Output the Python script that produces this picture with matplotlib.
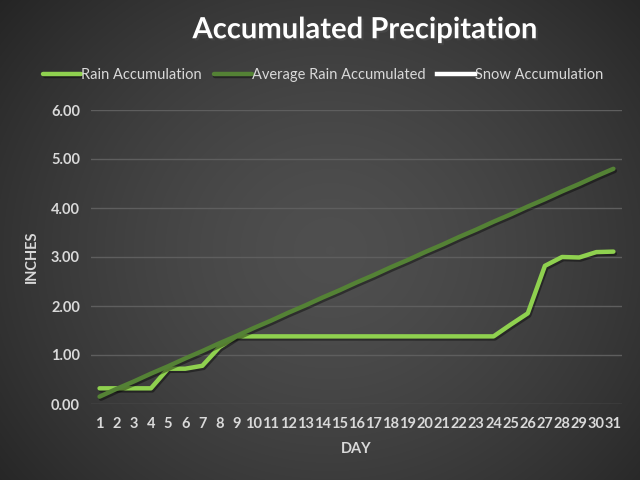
import matplotlib
matplotlib.use("Agg")
import matplotlib.pyplot as plt
import matplotlib.patheffects as pe
from matplotlib import font_manager
import numpy as np

days = [str(d) for d in range(1, 32)]
rain = [0.32, 0.32, 0.32, 0.32, 0.72, 0.72, 0.78, 1.16, 1.38, 1.38,
        1.38, 1.38, 1.38, 1.38, 1.38, 1.38, 1.38, 1.38, 1.38, 1.38,
        1.38, 1.38, 1.38, 1.38, 1.62, 1.85, 2.82, 3.00, 2.99, 3.10, 3.11]
avg_rain = [0.15, 0.31, 0.46, 0.62, 0.77, 0.93, 1.08, 1.24, 1.39, 1.55,
            1.70, 1.86, 2.01, 2.17, 2.32, 2.48, 2.63, 2.79, 2.94, 3.10,
            3.25, 3.41, 3.56, 3.72, 3.87, 4.03, 4.18, 4.34, 4.49, 4.65, 4.80]
snow = [np.nan] * 31
yticks = [0, 1, 2, 3, 4, 5, 6]

# pick a family that really has a bold face
fam = "DejaVu Sans"
for f in ["Lato", "Open Sans", "Roboto", "Noto Sans"]:
    path = font_manager.findfont(font_manager.FontProperties(family=f, weight="bold"),
                                 fallback_to_default=False)
    name = path.lower()
    if f.split()[0].lower() in name and ("bold" in name or "black" in name or "heavy" in name):
        fam = f
        break
plt.rcParams["font.family"] = [fam, "DejaVu Sans"]
plt.rcParams["font.weight"] = "bold"

fig = plt.figure(figsize=(6.4, 4.8), dpi=100)

# radial dark background
bg = fig.add_axes([0, 0, 1, 1], zorder=0)
yy, xx = np.mgrid[0:480, 0:640]
r = np.sqrt(((xx - 330) / 420.0) ** 2 + ((yy - 250) / 380.0) ** 2)
shade = np.clip(0.31 - 0.16 * r ** 1.5, 0.12, 0.31)
bg.imshow(np.dstack([shade] * 3), extent=[0, 1, 0, 1], aspect="auto")
bg.axis("off")

ax = fig.add_axes([91 / 640, 1 - 404 / 480, 531 / 640, 294 / 480], zorder=1)
ax.patch.set_alpha(0)

x = np.arange(len(days))
shadow = [pe.SimpleLineShadow(offset=(1, -1.5), alpha=0.4), pe.Normal()]
ax.plot(x, rain, color="#8fd14f", lw=3.2, solid_capstyle="round",
        label="Rain Accumulation", path_effects=shadow, zorder=3)
ax.plot(x, avg_rain, color="#548235", lw=3.2, solid_capstyle="round",
        label="Average Rain Accumulated", path_effects=shadow, zorder=4)
ax.plot(x, snow, color="white", lw=3.2, label="Snow Accumulation")

ax.set_xlim(-0.5, len(days) - 0.5)
ax.set_ylim(0, 6)
ax.set_xticks(x)
ax.set_xticklabels(days)
ax.set_yticks(yticks)
ax.set_yticklabels(["%.2f" % v for v in yticks])
ax.tick_params(colors="#d9d9d9", length=0, labelsize=10.5)
ax.tick_params(axis="x", pad=9)
ax.tick_params(axis="y", pad=8)
ax.grid(axis="y", color="#5e5e5e", lw=1)
ax.set_axisbelow(True)
for s in ax.spines.values():
    s.set_visible(False)

ax.set_xlabel("DAY", color="#d9d9d9", fontweight="bold", fontsize=10.5, labelpad=8)
ax.set_ylabel("INCHES", color="#d9d9d9", fontweight="bold", fontsize=10.5, labelpad=9)

fig.text(0.57, 0.937, "Accumulated Precipitation", color="white", fontsize=21,
         fontweight="bold", ha="center", va="center",
         path_effects=[pe.withSimplePatchShadow(offset=(1.5, -1.5), alpha=0.6)])

leg = fig.legend(loc="center", bbox_to_anchor=(0.505, 0.844), ncol=3, frameon=False,
                 prop={"size": 10.5, "weight": "normal"}, handlelength=2.6,
                 handletextpad=0.0, columnspacing=0.8, labelcolor="#d9d9d9")

fig.savefig("out.png", dpi=100)
